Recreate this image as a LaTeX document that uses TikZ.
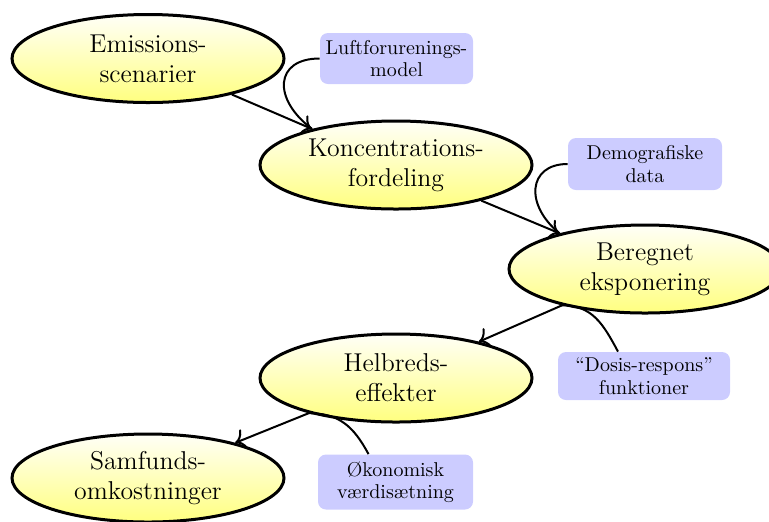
\documentclass[tikz,border=0pt]{standalone}
\usetikzlibrary{shapes.geometric,arrows.meta}
\begin{document}
\begin{tikzpicture}[x=0.5pt,y=-0.5pt,
  ell/.style={ellipse, draw=black, line width=1.5pt, top color=yellow!3, bottom color=yellow!50,
    minimum width=136pt, minimum height=44pt, inner sep=0pt, align=center,
    font=\fontsize{12.9}{15}\selectfont},
  info/.style={fill=blue!20, rounded corners=4pt, align=center, inner sep=0pt,
    font=\fontsize{10}{11.2}\selectfont},
  flow/.style={-{To[scale=1.35]}, line width=1pt},
  feed/.style={line width=1pt}]
\useasboundingbox (0,0) rectangle (769,521);
\node[ell] (e1) at (148,58.5) {Emissions-\\scenarier};
\node[ell] (e2) at (396,165) {Koncentrations-\\fordeling};
\node[ell] (e3) at (645,269) {Beregnet\\eksponering};
\node[ell] (e4) at (396,378) {Helbreds-\\effekter};
\node[ell] (e5) at (148,478) {Samfunds-\\omkostninger};
\node[info, minimum width=76.5pt, minimum height=25.5pt] (b1) at (396.5,58.5) {Luftforurenings-\\model};
\node[info, minimum width=77pt, minimum height=26pt] (b2) at (645,164) {Demografiske\\data};
\node[info, minimum width=86pt, minimum height=24pt] (b3) at (644,376) {“Dosis-respons”\\funktioner};
\node[info, minimum width=77.5pt, minimum height=27.5pt] (b4) at (395.5,482) {Økonomisk\\værdisætning};
\draw[flow] (e1) -- (e2) coordinate[pos=1] (t1);
\draw[flow] (e2) -- (e3) coordinate[pos=1] (t2);
\draw[flow] (e3) -- (e4) coordinate[pos=0] (s3);
\draw[flow] (e4) -- (e5) coordinate[pos=0] (s4);
\draw[feed] (b1.west) .. controls +(-45,0) and +(-40,-30) .. (t1);
\draw[feed] (b2.west) .. controls +(-40,0) and +(-35,-28) .. (t2);
\draw[feed] ([xshift=-13pt]b3.north) .. controls +(-15,-28) and +(30,0) .. (s3);
\draw[feed] ([xshift=-13.5pt]b4.north) .. controls +(-15,-28) and +(30,0) .. (s4);
\end{tikzpicture}
\end{document}
